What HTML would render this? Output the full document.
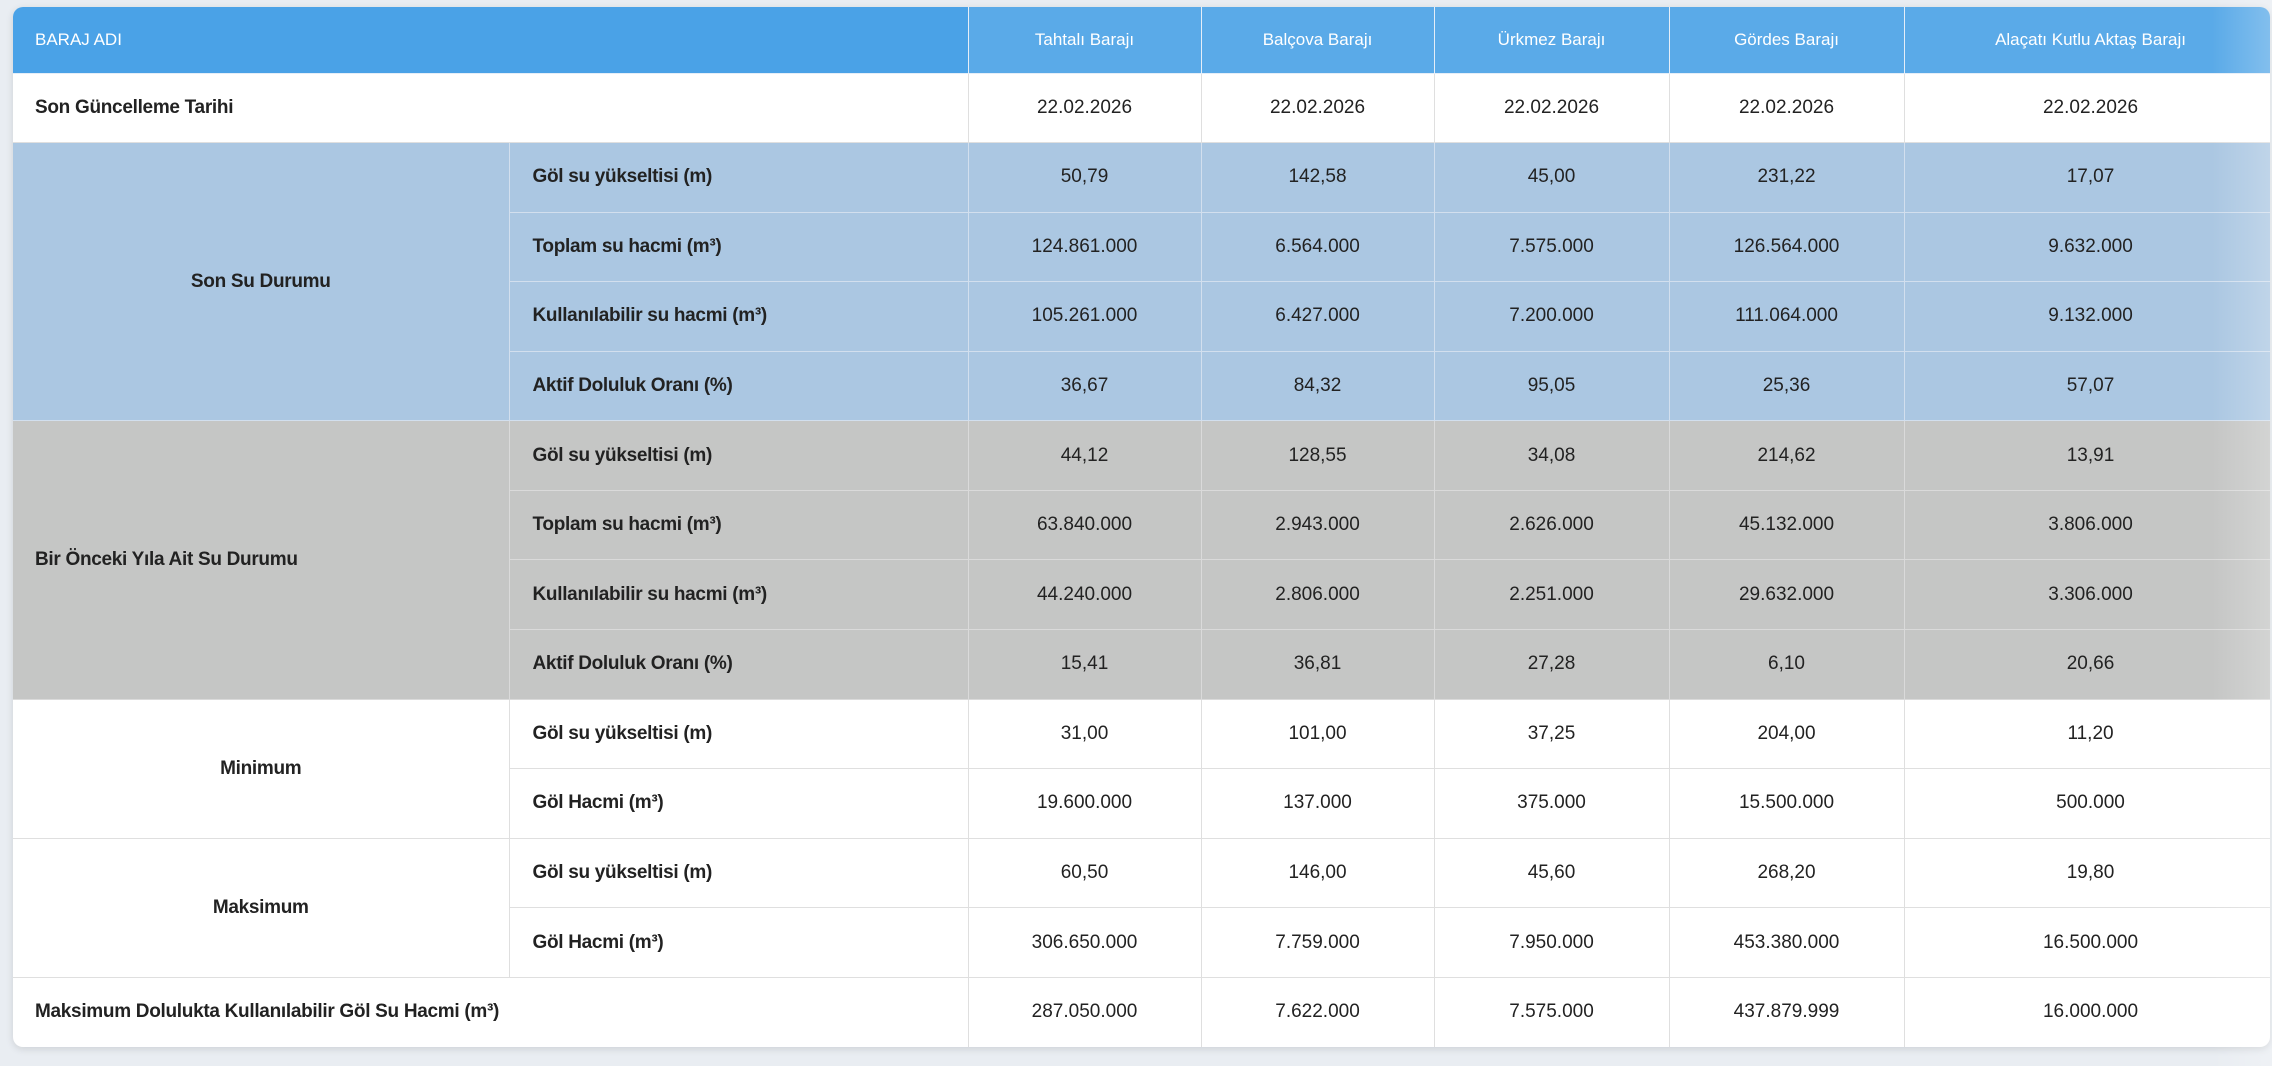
<!DOCTYPE html>
<html><head><meta charset="utf-8"><style>
html,body{margin:0;padding:0;background:#e9edf2;width:2272px;height:1066px;overflow:hidden;font-family:"Liberation Sans",sans-serif;}
.card{position:absolute;left:13px;top:7px;width:2257px;height:1040px;background:#fff;border-radius:10px;overflow:hidden;box-shadow:0 2px 8px rgba(0,0,0,.12);}
table{border-collapse:collapse;table-layout:fixed;width:2264px;}
td,th{height:69.57px;padding:0;font-size:19px;color:#222;text-align:center;border:1px solid #dfdfdf;box-sizing:border-box;}
tr>*:first-child{border-left:none}
th{height:66px;background:#5aaae8;color:#fff;font-weight:normal;font-size:17px;border-top:none;border-color:#e5eef8;}
th.l{background:#4aa2e7;text-align:left;padding-left:22px;}
td.lab{text-align:left;padding-left:23px;font-weight:bold;letter-spacing:-0.3px;}
td.grp{font-weight:bold;letter-spacing:-0.3px;}
td.grpl{text-align:left;padding-left:22px;font-weight:bold;letter-spacing:-0.3px;}
td.first{text-align:left;padding-left:22px;font-weight:bold;letter-spacing:-0.3px;}
tr.b td{background:#abc7e2;border-color:#d2dfee;}
tr.g td{background:#c5c6c5;border-color:#dadada;}
.fade{position:absolute;right:0;top:0;width:60px;height:1066px;background:linear-gradient(to right,rgba(255,255,255,0),rgba(255,255,255,.25));pointer-events:none;}
</style></head><body>
<div class="card">
<table>
<colgroup><col style="width:496px"><col style="width:459px"><col style="width:233px"><col style="width:233px"><col style="width:235px"><col style="width:235px"><col style="width:373px"></colgroup>
<tr><th class="l" colspan="2">BARAJ ADI</th><th>Tahtalı Barajı</th><th>Balçova Barajı</th><th>Ürkmez Barajı</th><th>Gördes Barajı</th><th>Alaçatı Kutlu Aktaş Barajı</th></tr>
<tr><td class="first" colspan="2">Son Güncelleme Tarihi</td><td>22.02.2026</td><td>22.02.2026</td><td>22.02.2026</td><td>22.02.2026</td><td>22.02.2026</td></tr>
<tr class="b"><td class="grp" rowspan="4">Son Su Durumu</td><td class="lab">Göl su yükseltisi (m)</td><td>50,79</td><td>142,58</td><td>45,00</td><td>231,22</td><td>17,07</td></tr>
<tr class="b"><td class="lab">Toplam su hacmi (m³)</td><td>124.861.000</td><td>6.564.000</td><td>7.575.000</td><td>126.564.000</td><td>9.632.000</td></tr>
<tr class="b"><td class="lab">Kullanılabilir su hacmi (m³)</td><td>105.261.000</td><td>6.427.000</td><td>7.200.000</td><td>111.064.000</td><td>9.132.000</td></tr>
<tr class="b"><td class="lab">Aktif Doluluk Oranı (%)</td><td>36,67</td><td>84,32</td><td>95,05</td><td>25,36</td><td>57,07</td></tr>
<tr class="g"><td class="grpl" rowspan="4">Bir Önceki Yıla Ait Su Durumu</td><td class="lab">Göl su yükseltisi (m)</td><td>44,12</td><td>128,55</td><td>34,08</td><td>214,62</td><td>13,91</td></tr>
<tr class="g"><td class="lab">Toplam su hacmi (m³)</td><td>63.840.000</td><td>2.943.000</td><td>2.626.000</td><td>45.132.000</td><td>3.806.000</td></tr>
<tr class="g"><td class="lab">Kullanılabilir su hacmi (m³)</td><td>44.240.000</td><td>2.806.000</td><td>2.251.000</td><td>29.632.000</td><td>3.306.000</td></tr>
<tr class="g"><td class="lab">Aktif Doluluk Oranı (%)</td><td>15,41</td><td>36,81</td><td>27,28</td><td>6,10</td><td>20,66</td></tr>
<tr><td class="grp" rowspan="2">Minimum</td><td class="lab">Göl su yükseltisi (m)</td><td>31,00</td><td>101,00</td><td>37,25</td><td>204,00</td><td>11,20</td></tr>
<tr><td class="lab">Göl Hacmi (m³)</td><td>19.600.000</td><td>137.000</td><td>375.000</td><td>15.500.000</td><td>500.000</td></tr>
<tr><td class="grp" rowspan="2">Maksimum</td><td class="lab">Göl su yükseltisi (m)</td><td>60,50</td><td>146,00</td><td>45,60</td><td>268,20</td><td>19,80</td></tr>
<tr><td class="lab">Göl Hacmi (m³)</td><td>306.650.000</td><td>7.759.000</td><td>7.950.000</td><td>453.380.000</td><td>16.500.000</td></tr>
<tr><td class="first" colspan="2" style="border-bottom:none">Maksimum Dolulukta Kullanılabilir Göl Su Hacmi (m³)</td><td style="border-bottom:none">287.050.000</td><td style="border-bottom:none">7.622.000</td><td style="border-bottom:none">7.575.000</td><td style="border-bottom:none">437.879.999</td><td style="border-bottom:none">16.000.000</td></tr>
</table>
</div>
<div class="fade"></div>
</body></html>
